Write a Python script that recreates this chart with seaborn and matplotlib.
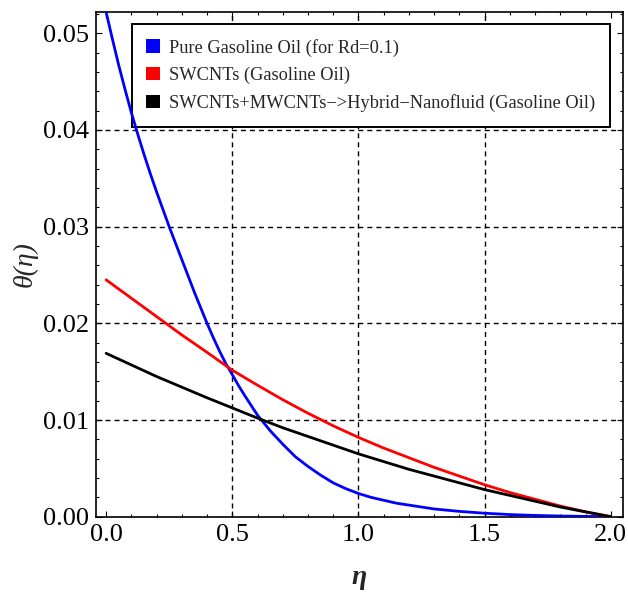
import numpy as np
import pandas as pd
import matplotlib
matplotlib.use("Agg")
import matplotlib.pyplot as plt
import seaborn as sns
from matplotlib.patches import Patch
from matplotlib.ticker import MultipleLocator

# ---- data ----
eta_blue = [0.000, 0.025, 0.050, 0.075, 0.100, 0.125, 0.150, 0.175, 0.200, 0.225,
            0.250, 0.275, 0.300, 0.325, 0.350, 0.375, 0.400, 0.425, 0.450, 0.475,
            0.500, 0.525, 0.550, 0.575, 0.600, 0.625, 0.650, 0.700, 0.750, 0.800,
            0.850, 0.900, 0.950, 1.000, 1.050, 1.100, 1.150, 1.200, 1.300, 1.400,
            1.500, 1.600, 1.700, 1.800, 1.900, 2.000]
theta_pure = [0.0522, 0.0494, 0.0467, 0.0442, 0.0418, 0.0396, 0.0375, 0.0355, 0.0336,
              0.0318, 0.0300, 0.0283, 0.0266, 0.0249, 0.0232, 0.0216, 0.0200, 0.0185,
              0.0171, 0.0158, 0.0147, 0.01355, 0.0125, 0.01150, 0.0105, 0.0097, 0.0089,
              0.0075, 0.0062, 0.0052, 0.0043, 0.0035, 0.0029, 0.0024, 0.0020, 0.0017,
              0.0014, 0.0012, 0.0008, 0.00055, 0.00036, 0.00022, 0.00013, 0.00007,
              0.00003, 0.0]

eta = [0.0, 0.1, 0.2, 0.3, 0.4, 0.5, 0.6, 0.7, 0.8, 0.9, 1.0, 1.1, 1.2, 1.3, 1.4,
       1.5, 1.6, 1.7, 1.8, 1.9, 2.0]
theta_swcnt = [0.0245, 0.0226, 0.0207, 0.0188, 0.0170, 0.01515, 0.0136, 0.0121, 0.0107,
               0.0094, 0.0082, 0.0071, 0.0061, 0.0051, 0.0042, 0.0033, 0.0025, 0.0018,
               0.0011, 0.0005, 0.0]
theta_hybrid = [0.0169, 0.0157, 0.0145, 0.0134, 0.0123, 0.01125, 0.0102, 0.0092, 0.0083,
                0.0074, 0.0065, 0.0057, 0.0049, 0.0042, 0.0035, 0.0028, 0.0022, 0.0016,
                0.0010, 0.0005, 0.0]

labels = ["Pure Gasoline Oil (for Rd=0.1)",
          "SWCNTs (Gasoline Oil)",
          "SWCNTs+MWCNTs\u2212>Hybrid\u2212Nanofluid (Gasoline Oil)"]
colors = ["#0000ff", "#ff0000", "#000000"]

x_ticks = [0.0, 0.5, 1.0, 1.5, 2.0]
x_tick_labels = ["0.0", "0.5", "1.0", "1.5", "2.0"]
y_ticks = [0.00, 0.01, 0.02, 0.03, 0.04, 0.05]
y_tick_labels = ["0.00", "0.01", "0.02", "0.03", "0.04", "0.05"]
x_grid = [0.5, 1.0, 1.5]
y_grid = [0.01, 0.02, 0.03, 0.04]

df = pd.concat([
    pd.DataFrame({"eta": eta_blue, "theta": theta_pure, "series": labels[0]}),
    pd.DataFrame({"eta": eta, "theta": theta_swcnt, "series": labels[1]}),
    pd.DataFrame({"eta": eta, "theta": theta_hybrid, "series": labels[2]}),
], ignore_index=True)

sns.set_theme(style="ticks")
plt.rcParams["font.family"] = ["Liberation Serif", "DejaVu Serif"]

fig = plt.figure(figsize=(6.28, 5.92), dpi=100)
ax = fig.add_axes([96 / 628, 1 - 516.7 / 592, 526.7 / 628, 504.7 / 592])

for v in x_grid:
    ax.axvline(v, color="black", lw=1.0, ls=(0, (3.6, 2.9)), zorder=1)
for v in y_grid:
    ax.axhline(v, color="black", lw=1.0, ls=(0, (3.6, 2.9)), zorder=1)

sns.lineplot(data=df, x="eta", y="theta", hue="series", palette=colors,
             hue_order=labels, sort=False, lw=2.0, ax=ax, legend=False, zorder=3)

ax.set_xlim(-0.04, 2.047)
ax.set_ylim(0.0, 0.0522)
ax.set_xticks(x_ticks)
ax.set_xticklabels(x_tick_labels)
ax.set_yticks(y_ticks)
ax.set_yticklabels(y_tick_labels)
ax.xaxis.set_minor_locator(MultipleLocator(0.1))
ax.yaxis.set_minor_locator(MultipleLocator(0.002))
ax.tick_params(which="both", direction="in", top=True, right=True, color="black",
               width=0.8)
ax.tick_params(which="major", length=4.0, labelsize=19, pad=5, labelcolor="black")
ax.tick_params(which="minor", length=2.3)
for s in ax.spines.values():
    s.set_linewidth(1.2)
    s.set_color("black")

ax.set_xlabel("\u03b7", fontsize=20, fontstyle="italic", fontweight="bold", labelpad=14)
ax.set_ylabel("\u03b8(\u03b7)", fontsize=20, fontstyle="italic", labelpad=4)

handles = [Patch(facecolor=c, edgecolor="none") for c in colors]
x0 = (131.7 - 96) / 526.7
y1 = (516.7 - 24) / 504.7
x1 = (610 - 96) / 526.7
leg = ax.legend(handles, labels, loc="upper left",
                bbox_to_anchor=(x0, y1 - 0.2, x1 - x0, 0.2), mode="expand",
                borderaxespad=0, fontsize=13.2, handlelength=0.76, handleheight=0.76,
                handletextpad=0.45, labelspacing=0.55, borderpad=0.8,
                frameon=True, fancybox=False, framealpha=1.0)
frame = leg.get_frame()
frame.set_facecolor((1, 1, 1, 0))
frame.set_edgecolor("black")
frame.set_linewidth(1.4)
leg.set_zorder(2)

fig.savefig("out.png", dpi=100)
